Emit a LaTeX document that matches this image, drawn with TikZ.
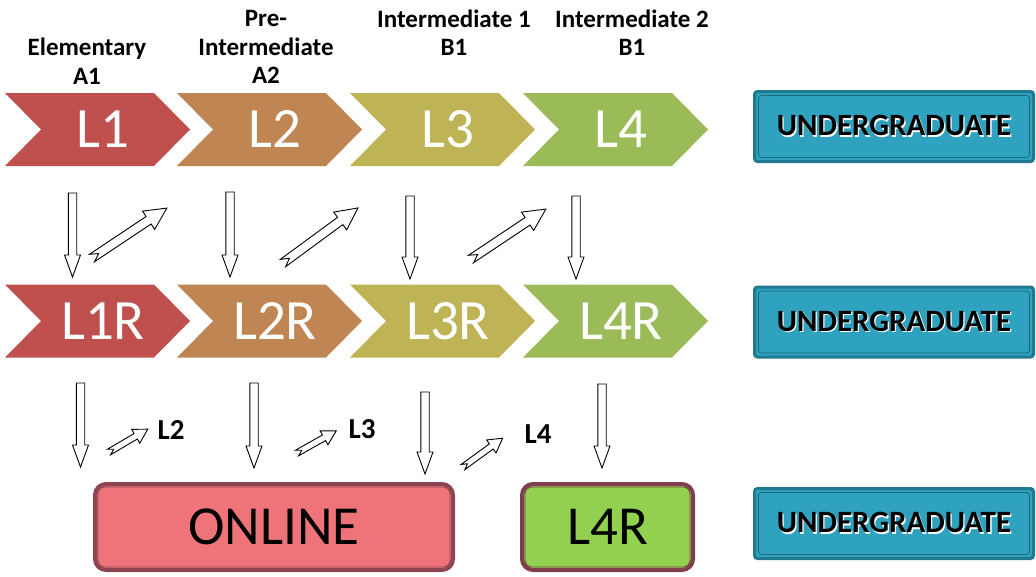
\documentclass[tikz,border=0pt]{standalone}
\usepackage{fontspec}
\setmainfont{Carlito}
\usetikzlibrary{calc}

\definecolor{lvlA}{HTML}{C0504D}
\definecolor{lvlB}{HTML}{BF8552}
\definecolor{lvlC}{HTML}{BEB355}
\definecolor{lvlD}{HTML}{9BBB59}
\definecolor{ugFill}{HTML}{2FA2C0}
\definecolor{ugEdge}{HTML}{1F7A90}
\definecolor{onFill}{HTML}{EE7479}
\definecolor{onEdge}{HTML}{8E4552}
\definecolor{grFill}{HTML}{92D050}
\definecolor{grEdge}{HTML}{7F3F4D}

% black caption with a pale offset copy behind it
\newcommand\ugshadow[1]{\rlap{\kern1.3pt\raisebox{-1.3pt}{\textcolor{white}{#1}}}#1}

\tikzset{
  chevtext/.style={text=white, font=\fontsize{57}{60}\selectfont, inner sep=0pt},
  levelhead/.style={font=\bfseries\fontsize{25}{28.5}\selectfont, align=center, inner sep=0pt},
  sidelabel/.style={font=\bfseries\fontsize{29}{31}\selectfont, inner sep=0pt},
  blockline/.style={draw=black, fill=white, line width=0.9pt, line join=miter},
  ugbox/.style={draw=ugEdge, fill=ugFill, line width=3pt, rounded corners=3pt,
    minimum width=279pt, minimum height=70pt, inner sep=0pt,
    font=\bfseries\fontsize{31}{33}\selectfont,
    path picture={\draw[ugEdge!85!black, line width=0.8pt]
      ($(path picture bounding box.south west)+(4pt,4pt)$) rectangle
      ($(path picture bounding box.north east)+(-4pt,-4pt)$);}},
  pathbox/.style={line width=4pt, rounded corners=11pt, inner sep=0pt,
    font=\fontsize{55}{58}\selectfont, minimum height=86pt},
  % level chevron, 185 wide and 73 high, drawn from its top left corner
  pics/chevron/.style={code={
    \fill[#1] (0,0) -- (149,0) -- (185,36.5) -- (149,73) -- (0,73) -- (36,36.5) -- cycle;}},
  % hollow downward block arrow of the given length
  pics/downarrow/.style={code={
    \draw[blockline] (-4.2,0) -- (4.2,0) -- (4.2,#1-22) -- (8,#1-22) -- (0,#1)
      -- (-8,#1-22) -- (-4.2,#1-22) -- cycle;}},
  % hollow notched arrow pointing along +x
  pics/bignotch/.style={code={
    \draw[blockline] (0,4.5) -- (#1-22,4.5) -- (#1-22,11) -- (#1,0) -- (#1-22,-11)
      -- (#1-22,-4.5) -- (0,-4.5) -- (8,0) -- cycle;}},
  pics/smallnotch/.style={code={
    \draw[blockline] (0,3.2) -- (#1-14,3.2) -- (#1-14,8) -- (#1,0) -- (#1-14,-8)
      -- (#1-14,-3.2) -- (0,-3.2) -- (5.5,0) -- cycle;}},
}

\begin{document}
\begin{tikzpicture}[x=1pt,y=-1pt]
\useasboundingbox (0,0) rectangle (1036,576);

% level headings
\node[levelhead] (hA) at (87,61) {Elementary\\A1};
\node[levelhead] (hB) at (266,47) {Pre-\\Intermediate\\A2};
\node[levelhead] (hC) at (454,32.5) {Intermediate 1\\B1};
\node[levelhead] (hD) at (632,32.5) {Intermediate 2\\B1};

% first row of levels
\pic at (5,93) {chevron=lvlA};
\pic at (177,93) {chevron=lvlB};
\pic at (350,93) {chevron=lvlC};
\pic at (523,93) {chevron=lvlD};
\node[chevtext] (L1) at (103,129.5) {L1};
\node[chevtext] (L2) at (275,129.5) {L2};
\node[chevtext] (L3) at (448,129.5) {L3};
\node[chevtext] (L4) at (621,129.5) {L4};

% repeat row
\pic at (5,284.5) {chevron=lvlA};
\pic at (177,284.5) {chevron=lvlB};
\pic at (350,284.5) {chevron=lvlC};
\pic at (523,284.5) {chevron=lvlD};
\node[chevtext] (L1R) at (103,321) {L1R};
\node[chevtext] (L2R) at (275,321) {L2R};
\node[chevtext] (L3R) at (448,321) {L3R};
\node[chevtext] (L4R) at (621,321) {L4R};

% undergraduate boxes
\node[ugbox] (ugA) at (894,126.5) {\ugshadow{UNDERGRADUATE}};
\node[ugbox] (ugB) at (894,322) {\ugshadow{UNDERGRADUATE}};
\node[ugbox] (ugC) at (894,523.5) {\ugshadow{UNDERGRADUATE}};

% bottom row
\node[pathbox, draw=onEdge, fill=onFill, minimum width=358pt] (online) at (274,527) {ONLINE};
\node[pathbox, draw=grEdge, fill=grFill, minimum width=171pt] (final) at (607.5,527) {L4R};
\draw[onEdge, line width=0.8pt, rounded corners=7pt]
  ($(online.south west)+(5pt,5pt)$) rectangle ($(online.north east)+(-5pt,-5pt)$);
\draw[grEdge, line width=0.8pt, rounded corners=7pt]
  ($(final.south west)+(5pt,5pt)$) rectangle ($(final.north east)+(-5pt,-5pt)$);

% arrows between the first and the repeat row
\coordinate (dA) at (72.5,193);
\coordinate (dB) at (230,192);
\coordinate (dC) at (410,196);
\coordinate (dD) at (576,196);
\pic at (dA) {downarrow=84};
\pic at (dB) {downarrow=85};
\pic at (dC) {downarrow=83};
\pic at (dD) {downarrow=83};
\coordinate (uA) at (92,258);
\coordinate (uB) at (283,263);
\coordinate (uC) at (471,259);
\pic[rotate=33.7] at (uA) {bignotch=90};
\pic[rotate=36.3] at (uB) {bignotch=93};
\pic[rotate=33.7] at (uC) {bignotch=90};

% arrows from the repeat row
\coordinate (eA) at (80.5,383);
\coordinate (eB) at (254,383);
\coordinate (eC) at (425,392);
\coordinate (eD) at (602,384);
\pic at (eA) {downarrow=84};
\pic at (eB) {downarrow=85};
\pic at (eC) {downarrow=82};
\pic at (eD) {downarrow=84};
\coordinate (sA) at (109,452);
\coordinate (sB) at (297,453);
\coordinate (sC) at (463,467);
\pic[rotate=30.5] at (sA) {smallnotch=45};
\pic[rotate=29.4] at (sB) {smallnotch=45};
\pic[rotate=36] at (sC) {smallnotch=49};
\node[sidelabel] (nL2) at (171,430) {L2};
\node[sidelabel] (nL3) at (362,429) {L3};
\node[sidelabel] (nL4) at (538,434) {L4};
\end{tikzpicture}
\end{document}
